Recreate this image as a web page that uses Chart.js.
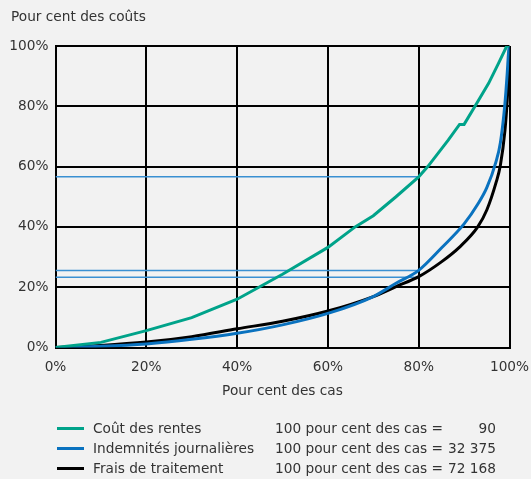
<!DOCTYPE html>
<html>
<head>
<meta charset="utf-8">
<script src="https://cdn.jsdelivr.net/npm/chart.js@4"></script>
<style>
  html, body { margin:0; padding:0; background:#f2f2f2; }
  body { width:531px; height:479px; position:relative; overflow:hidden;
         font-family:"DejaVu Sans", sans-serif; font-size:13.7px; color:#333; }
  #wrap { position:absolute; left:0; top:0; width:531px; height:479px; }
  .txt { position:absolute; line-height:16px; white-space:nowrap; }
  .sw { position:absolute; height:3px; width:27px; }
</style>
</head>
<body>
<div id="wrap"><canvas id="c" width="531" height="479"></canvas></div>
<div class="txt" style="left:11px; top:8px;">Pour cent des coûts</div>
<div id="legend"></div>
<script>
// ---- data ----
const seriesNames = ["Coût des rentes", "Indemnités journalières", "Frais de traitement"];
const caseTotals = ["90", "32 375", "72 168"];
const casesLabel = "100 pour cent des cas =";
const tickValues = [0, 20, 40, 60, 80, 100];

const renteX = [0, 10, 20, 30, 40, 50, 60, 66, 70, 75, 80, 82, 86.5, 89, 90, 92.4, 95.4, 97.6, 99.4, 100];
const renteY = [0, 1.7, 5.6, 9.9, 16, 24.3, 33.2, 40, 43.7, 50, 56.6, 60, 68.8, 74, 74, 80, 87.6, 94.3, 100, 100];

const indemX = [0, 10, 20, 30, 40, 50, 60, 70, 75, 80, 85, 90, 93, 95, 97, 98, 99, 99.5, 99.8, 100];
const indemY = [0, 0.4, 1.2, 2.7, 4.7, 7.5, 11.3, 16.9, 21.3, 25.6, 33, 41, 47.5, 53, 61.5, 68, 81, 91, 98, 100];

const fraisX = [0, 10, 20, 30, 40, 50, 60, 70, 75, 80, 85, 89, 93, 95, 97, 98, 99, 99.5, 99.8, 100];
const fraisY = [0, 0.7, 1.8, 3.6, 6.2, 8.7, 12.1, 16.9, 20.2, 23.5, 28.4, 33.3, 40, 45.6, 54.5, 60.5, 72, 82, 91, 100];

const refCase = 80;               // reference share of cases
const refCost = [56.6, 25.5, 23.3]; // cost share at reference case share

// ---- styles ----
const colors = ["#00a38a", "#0a72bf", "#000000"];
const refColor = "#3a90d2";
const FONT = { family: "DejaVu Sans", size: 13.7 };

const pts = (xs, ys) => xs.map((x, i) => ({ x: x, y: ys[i] }));

const datasets = [
  { label: seriesNames[0], data: pts(renteX, renteY), borderColor: colors[0], borderWidth: 3, tension: 0 },
  { label: seriesNames[1], data: pts(indemX, indemY), borderColor: colors[1], borderWidth: 3, cubicInterpolationMode: "monotone" },
  { label: seriesNames[2], data: pts(fraisX, fraisY), borderColor: colors[2], borderWidth: 3, cubicInterpolationMode: "monotone" }
];
refCost.forEach(v => datasets.push({
  label: "ref", data: [{ x: 0, y: v }, { x: refCase, y: v }],
  borderColor: refColor, borderWidth: 1.5, tension: 0
}));
datasets.forEach(d => { d.pointRadius = 0; d.fill = false; });

new Chart(document.getElementById("c"), {
  type: "line",
  data: { datasets: datasets },
  options: {
    responsive: false,
    animation: false,
    events: [],
    layout: { padding: { top: 46, right: 21.5, left: 0, bottom: 0 } },
    plugins: { legend: { display: false }, tooltip: { enabled: false }, title: { display: false } },
    scales: {
      x: {
        type: "linear", min: 0, max: 100,
        afterBuildTicks: s => { s.ticks = tickValues.map(v => ({ value: v })); },
        afterFit: s => { s.height = 131.5; s.paddingLeft = 0; s.paddingRight = 0; },
        ticks: { callback: v => v + "%", color: "#333", font: FONT, padding: 12, maxRotation: 0 },
        grid: { color: "#000", lineWidth: 2, drawTicks: false },
        border: { color: "#000", width: 2 },
        title: { display: true, text: "Pour cent des cas", color: "#333", font: FONT, padding: { top: 0, bottom: 79 } }
      },
      y: {
        type: "linear", min: 0, max: 100,
        afterBuildTicks: s => { s.ticks = tickValues.map(v => ({ value: v })); },
        afterFit: s => { s.width = 55.5; s.paddingTop = 0; s.paddingBottom = 0; },
        ticks: { callback: v => v + "%", color: "#333", font: FONT, padding: 7 },
        grid: { color: "#000", lineWidth: 2, drawTicks: false },
        border: { color: "#000", width: 2 }
      }
    }
  }
});

// ---- legend (HTML text) ----
const legend = document.getElementById("legend");
seriesNames.forEach((name, i) => {
  const top = 420 + i * 20;
  const sw = document.createElement("div");
  sw.className = "sw";
  sw.style.left = "57px"; sw.style.top = (top + 6.5) + "px"; sw.style.background = colors[i];
  legend.appendChild(sw);
  const t1 = document.createElement("div");
  t1.className = "txt"; t1.style.left = "93px"; t1.style.top = top + "px"; t1.textContent = name;
  legend.appendChild(t1);
  const t2 = document.createElement("div");
  t2.className = "txt"; t2.style.left = "275px"; t2.style.top = top + "px"; t2.textContent = casesLabel;
  legend.appendChild(t2);
  const t3 = document.createElement("div");
  t3.className = "txt"; t3.style.right = (531 - 496) + "px"; t3.style.top = top + "px"; t3.textContent = caseTotals[i];
  legend.appendChild(t3);
});
</script>
</body>
</html>
